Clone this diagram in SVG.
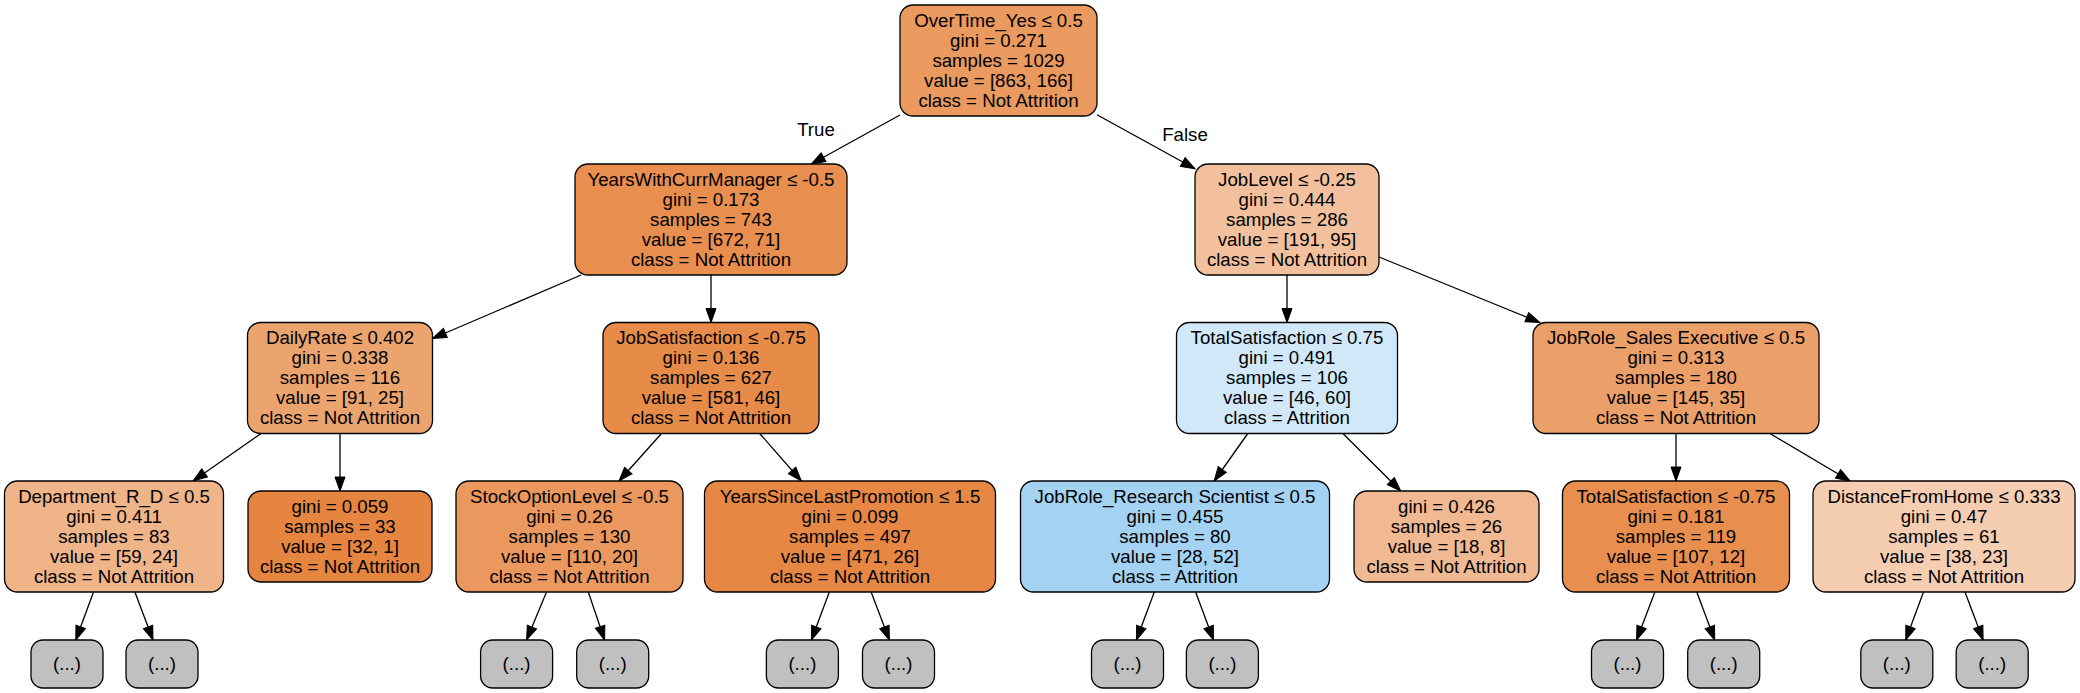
<svg xmlns="http://www.w3.org/2000/svg" width="2080" height="693" viewBox="0 0 2080 693">
<style>
.box{stroke:#000;stroke-width:1.3}
.more{fill:#c0c0c0;stroke:#000;stroke-width:1.3}
text{font-family:"Liberation Sans",Arial,Helvetica,sans-serif;font-size:18.67px;fill:#000;text-anchor:middle}
.edge{stroke:#000;stroke-width:1.3;fill:none;marker-end:url(#arr)}
</style>
<defs>
<marker id="arr" markerUnits="userSpaceOnUse" markerWidth="15" markerHeight="11" refX="14" refY="5" orient="auto" overflow="visible">
<path d="M0,0 L14,5 L0,10 Z" fill="#000" stroke="#000" stroke-width="1"/>
</marker>
</defs>
<rect width="2080" height="693" fill="#fff"/>
<g id="connectors">
<line class="edge" x1="900" y1="115" x2="811.3" y2="164"/>
<line class="edge" x1="1097" y1="114.8" x2="1195" y2="168.8"/>
<line class="edge" x1="581.1" y1="275" x2="432.5" y2="338.5"/>
<line class="edge" x1="711" y1="275" x2="711" y2="322.5"/>
<line class="edge" x1="1287" y1="275" x2="1287" y2="322.5"/>
<line class="edge" x1="1379" y1="257" x2="1539.8" y2="322.5"/>
<line class="edge" x1="260.9" y1="433.5" x2="193.1" y2="481"/>
<line class="edge" x1="340" y1="433.5" x2="340" y2="491"/>
<line class="edge" x1="661.5" y1="433.5" x2="619" y2="481"/>
<line class="edge" x1="759.7" y1="433.5" x2="801.3" y2="481"/>
<line class="edge" x1="1247.8" y1="433.5" x2="1214.2" y2="481"/>
<line class="edge" x1="1342.9" y1="433.5" x2="1400.7" y2="491"/>
<line class="edge" x1="1676" y1="433.5" x2="1676" y2="481"/>
<line class="edge" x1="1769.9" y1="433.5" x2="1850.1" y2="481"/>
<line class="edge" x1="93.5" y1="592" x2="75.8" y2="640"/>
<line class="edge" x1="134.9" y1="592" x2="153" y2="640"/>
<line class="edge" x1="546.5" y1="592" x2="526.6" y2="640"/>
<line class="edge" x1="588.3" y1="592" x2="604.6" y2="640"/>
<line class="edge" x1="829.3" y1="592" x2="811.4" y2="640"/>
<line class="edge" x1="871.1" y1="592" x2="889.4" y2="640"/>
<line class="edge" x1="1154.3" y1="592" x2="1136.4" y2="640"/>
<line class="edge" x1="1195.6" y1="592" x2="1213.5" y2="640"/>
<line class="edge" x1="1654.9" y1="592" x2="1636.6" y2="640"/>
<line class="edge" x1="1696.8" y1="592" x2="1714.7" y2="640"/>
<line class="edge" x1="1923.5" y1="592" x2="1905.7" y2="640"/>
<line class="edge" x1="1965" y1="592" x2="1983.1" y2="640"/>
<text x="816" y="136">True</text>
<text x="1185" y="140.5">False</text>
</g>
<g id="n0"><rect class="box" x="900" y="5" width="197" height="111" rx="13" fill="#ea995f"/>
<text><tspan x="998.5" y="26.5">OverTime_Yes ≤ 0.5</tspan><tspan x="998.5" y="46.5">gini = 0.271</tspan><tspan x="998.5" y="66.5">samples = 1029</tspan><tspan x="998.5" y="86.5">value = [863, 166]</tspan><tspan x="998.5" y="106.5">class = Not Attrition</tspan></text></g>
<g id="n1"><rect class="box" x="575" y="164" width="272" height="111" rx="13" fill="#e88e4e"/>
<text><tspan x="711" y="185.5">YearsWithCurrManager ≤ -0.5</tspan><tspan x="711" y="205.5">gini = 0.173</tspan><tspan x="711" y="225.5">samples = 743</tspan><tspan x="711" y="245.5">value = [672, 71]</tspan><tspan x="711" y="265.5">class = Not Attrition</tspan></text></g>
<g id="n2"><rect class="box" x="1195" y="164" width="184" height="111" rx="13" fill="#f2c09c"/>
<text><tspan x="1287" y="185.5">JobLevel ≤ -0.25</tspan><tspan x="1287" y="205.5">gini = 0.444</tspan><tspan x="1287" y="225.5">samples = 286</tspan><tspan x="1287" y="245.5">value = [191, 95]</tspan><tspan x="1287" y="265.5">class = Not Attrition</tspan></text></g>
<g id="n3"><rect class="box" x="247.5" y="322.5" width="185" height="111" rx="13" fill="#eca46f"/>
<text><tspan x="340" y="344">DailyRate ≤ 0.402</tspan><tspan x="340" y="364">gini = 0.338</tspan><tspan x="340" y="384">samples = 116</tspan><tspan x="340" y="404">value = [91, 25]</tspan><tspan x="340" y="424">class = Not Attrition</tspan></text></g>
<g id="n4"><rect class="box" x="603" y="322.5" width="216" height="111" rx="13" fill="#e78b49"/>
<text><tspan x="711" y="344">JobSatisfaction ≤ -0.75</tspan><tspan x="711" y="364">gini = 0.136</tspan><tspan x="711" y="384">samples = 627</tspan><tspan x="711" y="404">value = [581, 46]</tspan><tspan x="711" y="424">class = Not Attrition</tspan></text></g>
<g id="n5"><rect class="box" x="1176.5" y="322.5" width="221" height="111" rx="13" fill="#d1e8f9"/>
<text><tspan x="1287" y="344">TotalSatisfaction ≤ 0.75</tspan><tspan x="1287" y="364">gini = 0.491</tspan><tspan x="1287" y="384">samples = 106</tspan><tspan x="1287" y="404">value = [46, 60]</tspan><tspan x="1287" y="424">class = Attrition</tspan></text></g>
<g id="n6"><rect class="box" x="1533" y="322.5" width="286" height="111" rx="13" fill="#eb9f69"/>
<text><tspan x="1676" y="344">JobRole_Sales Executive ≤ 0.5</tspan><tspan x="1676" y="364">gini = 0.313</tspan><tspan x="1676" y="384">samples = 180</tspan><tspan x="1676" y="404">value = [145, 35]</tspan><tspan x="1676" y="424">class = Not Attrition</tspan></text></g>
<g id="n7"><rect class="box" x="4.5" y="481" width="219" height="111" rx="13" fill="#f0b489"/>
<text><tspan x="114" y="502.5">Department_R_D ≤ 0.5</tspan><tspan x="114" y="522.5">gini = 0.411</tspan><tspan x="114" y="542.5">samples = 83</tspan><tspan x="114" y="562.5">value = [59, 24]</tspan><tspan x="114" y="582.5">class = Not Attrition</tspan></text></g>
<g id="n8"><rect class="box" x="248" y="491" width="184" height="91" rx="13" fill="#e6853f"/>
<text><tspan x="340" y="512.5">gini = 0.059</tspan><tspan x="340" y="532.5">samples = 33</tspan><tspan x="340" y="552.5">value = [32, 1]</tspan><tspan x="340" y="572.5">class = Not Attrition</tspan></text></g>
<g id="n9"><rect class="box" x="456" y="481" width="227" height="111" rx="13" fill="#ea985d"/>
<text><tspan x="569.5" y="502.5">StockOptionLevel ≤ -0.5</tspan><tspan x="569.5" y="522.5">gini = 0.26</tspan><tspan x="569.5" y="542.5">samples = 130</tspan><tspan x="569.5" y="562.5">value = [110, 20]</tspan><tspan x="569.5" y="582.5">class = Not Attrition</tspan></text></g>
<g id="n10"><rect class="box" x="704.5" y="481" width="291" height="111" rx="13" fill="#e68844"/>
<text><tspan x="850" y="502.5">YearsSinceLastPromotion ≤ 1.5</tspan><tspan x="850" y="522.5">gini = 0.099</tspan><tspan x="850" y="542.5">samples = 497</tspan><tspan x="850" y="562.5">value = [471, 26]</tspan><tspan x="850" y="582.5">class = Not Attrition</tspan></text></g>
<g id="n11"><rect class="box" x="1020.5" y="481" width="309" height="111" rx="13" fill="#a4d2f3"/>
<text><tspan x="1175" y="502.5">JobRole_Research Scientist ≤ 0.5</tspan><tspan x="1175" y="522.5">gini = 0.455</tspan><tspan x="1175" y="542.5">samples = 80</tspan><tspan x="1175" y="562.5">value = [28, 52]</tspan><tspan x="1175" y="582.5">class = Attrition</tspan></text></g>
<g id="n12"><rect class="box" x="1354" y="491" width="185" height="91" rx="13" fill="#f1b991"/>
<text><tspan x="1446.5" y="512.5">gini = 0.426</tspan><tspan x="1446.5" y="532.5">samples = 26</tspan><tspan x="1446.5" y="552.5">value = [18, 8]</tspan><tspan x="1446.5" y="572.5">class = Not Attrition</tspan></text></g>
<g id="n13"><rect class="box" x="1562.5" y="481" width="227" height="111" rx="13" fill="#e88f4f"/>
<text><tspan x="1676" y="502.5">TotalSatisfaction ≤ -0.75</tspan><tspan x="1676" y="522.5">gini = 0.181</tspan><tspan x="1676" y="542.5">samples = 119</tspan><tspan x="1676" y="562.5">value = [107, 12]</tspan><tspan x="1676" y="582.5">class = Not Attrition</tspan></text></g>
<g id="n14"><rect class="box" x="1813" y="481" width="262" height="111" rx="13" fill="#f5cdb1"/>
<text><tspan x="1944" y="502.5">DistanceFromHome ≤ 0.333</tspan><tspan x="1944" y="522.5">gini = 0.47</tspan><tspan x="1944" y="542.5">samples = 61</tspan><tspan x="1944" y="562.5">value = [38, 23]</tspan><tspan x="1944" y="582.5">class = Not Attrition</tspan></text></g>
<g id="m1"><rect class="more" x="31" y="640" width="72" height="48" rx="12"/><text x="67" y="670">(...)</text></g>
<g id="m2"><rect class="more" x="126" y="640" width="72" height="48" rx="12"/><text x="162" y="670">(...)</text></g>
<g id="m3"><rect class="more" x="480.6" y="640" width="72" height="48" rx="12"/><text x="516.6" y="670">(...)</text></g>
<g id="m4"><rect class="more" x="576.7" y="640" width="72" height="48" rx="12"/><text x="612.7" y="670">(...)</text></g>
<g id="m5"><rect class="more" x="766.4" y="640" width="72" height="48" rx="12"/><text x="802.4" y="670">(...)</text></g>
<g id="m6"><rect class="more" x="862.5" y="640" width="72" height="48" rx="12"/><text x="898.5" y="670">(...)</text></g>
<g id="m7"><rect class="more" x="1091.5" y="640" width="72" height="48" rx="12"/><text x="1127.5" y="670">(...)</text></g>
<g id="m8"><rect class="more" x="1186.4" y="640" width="72" height="48" rx="12"/><text x="1222.4" y="670">(...)</text></g>
<g id="m9"><rect class="more" x="1591.5" y="640" width="72" height="48" rx="12"/><text x="1627.5" y="670">(...)</text></g>
<g id="m10"><rect class="more" x="1687.7" y="640" width="72" height="48" rx="12"/><text x="1723.7" y="670">(...)</text></g>
<g id="m11"><rect class="more" x="1860.8" y="640" width="72" height="48" rx="12"/><text x="1896.8" y="670">(...)</text></g>
<g id="m12"><rect class="more" x="1956.2" y="640" width="72" height="48" rx="12"/><text x="1992.2" y="670">(...)</text></g>
</svg>
